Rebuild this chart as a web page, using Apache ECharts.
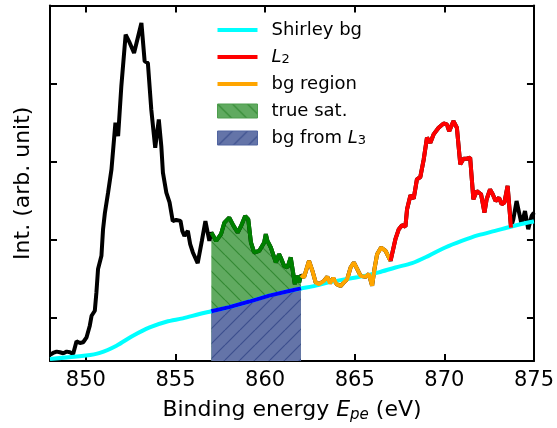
<!DOCTYPE html>
<html>
<head>
<meta charset="utf-8">
<script src="https://cdn.jsdelivr.net/npm/echarts@6/dist/echarts.min.js"></script>
<style>
html,body{margin:0;padding:0;background:#fff;}
#chart{width:557px;height:428px;}
</style>
</head>
<body>
<div id="chart"></div>
<script>
// ---- data ----
const specX = [848.00,848.17,848.37,848.55,848.74,848.93,849.11,849.29,849.48,849.67,849.85,850.04,850.22,850.32,850.50,850.59,850.68,850.87,850.96,851.06,851.24,851.43,851.65,851.80,851.98,852.22,852.45,852.69,853.10,853.28,853.46,853.65,853.87,854.07,854.21,854.30,854.49,854.67,854.85,855.04,855.28,855.38,855.50,855.69,855.82,855.97,856.24,856.47,856.67,856.89,
  857.00,857.27,857.54,857.73,858.00,858.24,858.47,858.66,858.89,859.06,859.21,859.39,859.67,859.95,860.04,860.13,860.32,860.60,860.78,860.91,861.06,861.25,861.43,861.56,861.66,861.77,861.90,862.00,
  862.17,862.45,862.64,862.82,863.01,863.29,863.47,863.62,863.80,863.99,864.21,864.40,864.58,864.77,864.95,865.14,865.33,865.60,865.79,865.97,866.10,866.25,866.47,866.72,866.90,867.00,
  867.27,867.46,867.64,867.83,867.92,868.11,868.29,868.47,868.66,868.85,869.03,869.22,869.40,869.68,869.96,870.14,870.27,870.51,870.70,870.89,871.07,871.25,871.44,871.62,871.81,872.05,872.24,872.36,872.55,872.70,872.86,873.05,873.20,873.35,873.53,873.72,
  873.85,874.03,874.17,874.31,874.50,874.68,874.87,875.00];
const specY = [0.531,0.553,0.570,0.562,0.549,0.570,0.562,0.540,0.702,0.681,0.690,0.753,0.902,1.029,1.093,1.328,1.626,1.796,2.137,2.341,2.605,2.903,3.499,3.328,3.967,4.627,4.521,4.393,4.776,4.286,4.265,3.669,3.180,3.541,3.200,2.861,2.605,2.481,2.239,2.255,2.243,2.115,2.051,2.115,1.945,1.839,1.702,1.983,2.239,1.987,
  2.094,1.987,2.073,2.222,2.286,2.179,2.094,2.179,2.306,2.264,1.967,1.839,1.859,1.967,2.073,1.987,1.903,1.711,1.817,1.753,1.668,1.647,1.775,1.584,1.434,1.540,1.456,1.549,
  1.520,1.732,1.604,1.456,1.434,1.476,1.527,1.447,1.511,1.434,1.409,1.456,1.498,1.647,1.711,1.626,1.540,1.527,1.562,1.412,1.626,1.817,1.903,1.859,1.775,1.732,
  2.009,2.137,2.188,2.171,2.392,2.571,2.529,2.775,2.805,3.031,3.308,3.244,3.350,3.435,3.490,3.478,3.392,3.520,3.435,2.967,3.039,3.039,3.052,2.520,2.626,2.584,2.350,2.520,2.647,2.584,2.498,2.541,2.456,2.478,2.690,2.158,
  2.264,2.498,2.350,2.200,2.370,2.137,2.306,2.350];
const bgX = [848.00,850.00,850.78,851.71,852.63,853.56,854.49,855.41,856.34,857.00,858.00,859.12,860.23,861.34,862.00,862.64,863.56,864.49,865.42,866.34,867.27,868.20,869.12,870.05,870.97,871.90,872.83,873.75,874.68,875.00];
const bgY = [0.476,0.519,0.553,0.646,0.774,0.881,0.953,0.996,1.051,1.086,1.140,1.211,1.287,1.345,1.379,1.405,1.456,1.498,1.533,1.584,1.647,1.702,1.796,1.903,1.987,2.060,2.115,2.171,2.222,2.235];
const xTicks = [850, 855, 860, 865, 870, 875];
const yTicks = [1, 2, 3, 4];
const satRange = [857, 862];
const bgRegionRange = [862, 867];
const l2Range = [867, 873.72];
// ----------------------------------------------

const FONT = 'DejaVu Sans';
const LW = 4;
function pts(xs, ys, a, b) {
  const out = [];
  for (let i = 0; i < xs.length; i++) {
    if (a === undefined || (xs[i] >= a - 1e-9 && xs[i] <= b + 1e-9)) out.push([xs[i], ys[i]]);
  }
  return out;
}
function hatch(bg, line, dir) {
  const s = 15;
  const c = document.createElement('canvas');
  c.width = s; c.height = s;
  const g = c.getContext('2d');
  g.fillStyle = bg; g.fillRect(0, 0, s, s);
  g.strokeStyle = line; g.lineWidth = 1.2;
  g.beginPath();
  for (const k of [-s, 0, s]) {
    if (dir === 'back') { g.moveTo(k, 0); g.lineTo(k + s, s); }
    else { g.moveTo(k, s); g.lineTo(k + s, 0); }
  }
  g.stroke();
  return { image: c, repeat: 'repeat' };
}
const greenPat = hatch('#60aa60', '#348a34', 'back');
const bluePat = hatch('#6474a8', '#3d4f8e', 'fwd');
const LINE_ICON = 'path://M0,0H40V3.8H0Z';

const chart = echarts.init(document.getElementById('chart'), null, { renderer: 'canvas' });

const axisCommon = {
  type: 'value',
  axisLine: { show: true, onZero: false, lineStyle: { color: '#000', width: 2 } },
  splitLine: { show: false },
};

const option = {
  animation: false,
  backgroundColor: '#fff',
  textStyle: { fontFamily: FONT },
  grid: { left: 50, right: 21, top: 5.5, bottom: 66, containLabel: false },
  legend: {
    orient: 'vertical', left: 217, top: 21, padding: 0,
    itemWidth: 40, itemHeight: 14, itemGap: 9, symbolKeepAspect: true,
    textStyle: {
      fontFamily: FONT, fontSize: 18, color: '#000', lineHeight: 18, padding: [0, 0, 0, 9],
      rich: {
        it: { fontFamily: FONT, fontSize: 18, fontStyle: 'italic', lineHeight: 18 },
        sub: { fontFamily: FONT, fontSize: 13, lineHeight: 10, verticalAlign: 'bottom' }
      }
    },
    formatter: function (n) {
      if (n === 'L2') return '{it|L}{sub|2}';
      if (n === 'bg from L3') return 'bg from {it|L}{sub|3}';
      return n;
    },
    data: [
      { name: 'Shirley bg', icon: LINE_ICON, itemStyle: { color: '#00ffff', borderWidth: 0 } },
      { name: 'L2', icon: LINE_ICON, itemStyle: { color: '#ff0000', borderWidth: 0 } },
      { name: 'bg region', icon: LINE_ICON, itemStyle: { color: '#ffa500', borderWidth: 0 } },
      { name: 'true sat.', icon: 'rect', itemStyle: { color: greenPat, borderColor: '#4d9d4d', borderWidth: 1 } },
      { name: 'bg from L3', icon: 'rect', itemStyle: { color: bluePat, borderColor: '#5064a0', borderWidth: 1 } }
    ]
  },
  xAxis: [
    Object.assign({}, axisCommon, {
      min: 848, max: 875, position: 'bottom',
      axisTick: { show: true, inside: true, length: 7, lineStyle: { color: '#000', width: 2 }, customValues: xTicks },
      axisLabel: { show: true, customValues: xTicks, color: '#000', fontSize: 21, fontFamily: FONT, margin: 9 },
      name: 'Binding energy {it|E}{sub|pe} (eV)',
      nameLocation: 'middle', nameGap: 36,
      nameTextStyle: {
        color: '#000', fontSize: 22, fontFamily: FONT, lineHeight: 26,
        rich: {
          it: { fontFamily: FONT, fontSize: 22, fontStyle: 'italic', lineHeight: 26, color: '#000' },
          sub: { fontFamily: FONT, fontSize: 15, fontStyle: 'italic', lineHeight: 12, verticalAlign: 'bottom', color: '#000' }
        }
      }
    }),
    Object.assign({}, axisCommon, {
      min: 848, max: 875, position: 'top',
      axisTick: { show: true, inside: true, length: 7, lineStyle: { color: '#000', width: 2 }, customValues: xTicks },
      axisLabel: { show: false }
    })
  ],
  yAxis: [
    Object.assign({}, axisCommon, {
      min: 0.45, max: 5.0, position: 'left',
      axisTick: { show: true, inside: true, length: 7, lineStyle: { color: '#000', width: 2 }, customValues: yTicks },
      axisLabel: { show: false },
      name: 'Int. (arb. unit)', nameLocation: 'middle', nameRotate: 90, nameGap: 16,
      nameTextStyle: { color: '#000', fontSize: 22, fontFamily: FONT }
    }),
    Object.assign({}, axisCommon, {
      min: 0.45, max: 5.0, position: 'right',
      axisTick: { show: true, inside: true, length: 7, lineStyle: { color: '#000', width: 2 }, customValues: yTicks },
      axisLabel: { show: false }
    })
  ],
  series: [
    {
      name: 'true sat.', type: 'line', data: pts(specX, specY, satRange[0], satRange[1]),
      symbol: 'none', lineStyle: { width: 0 }, itemStyle: { color: '#4d9d4d' },
      areaStyle: { color: greenPat, opacity: 1 }, z: 1
    },
    {
      name: 'bg from L3', type: 'line', data: pts(bgX, bgY, satRange[0], satRange[1]),
      symbol: 'none', lineStyle: { width: 0 }, itemStyle: { color: '#5064a0' },
      areaStyle: { color: bluePat, opacity: 1 }, z: 2
    },
    {
      name: 'spectrum', type: 'line', data: pts(specX, specY),
      symbol: 'none', lineStyle: { color: '#000', width: LW }, z: 3
    },
    {
      name: 'Shirley bg', type: 'line', data: pts(bgX, bgY), smooth: 0.3,
      symbol: 'none', lineStyle: { color: '#00ffff', width: LW }, itemStyle: { color: '#00ffff' }, z: 4
    },
    {
      name: 'bg under sat', type: 'line', data: pts(bgX, bgY, satRange[0], satRange[1]),
      symbol: 'none', lineStyle: { color: '#0000ff', width: LW }, z: 5
    },
    {
      name: 'sat line', type: 'line', data: pts(specX, specY, satRange[0], satRange[1]),
      symbol: 'none', lineStyle: { color: '#008000', width: LW }, z: 6
    },
    {
      name: 'bg region', type: 'line', data: pts(specX, specY, bgRegionRange[0], bgRegionRange[1]),
      symbol: 'none', lineStyle: { color: '#ffa500', width: LW }, itemStyle: { color: '#ffa500' }, z: 7
    },
    {
      name: 'L2', type: 'line', data: pts(specX, specY, l2Range[0], l2Range[1]),
      symbol: 'none', lineStyle: { color: '#ff0000', width: LW }, itemStyle: { color: '#ff0000' }, z: 8
    }
  ]
};
chart.setOption(option);
</script>
</body>
</html>
